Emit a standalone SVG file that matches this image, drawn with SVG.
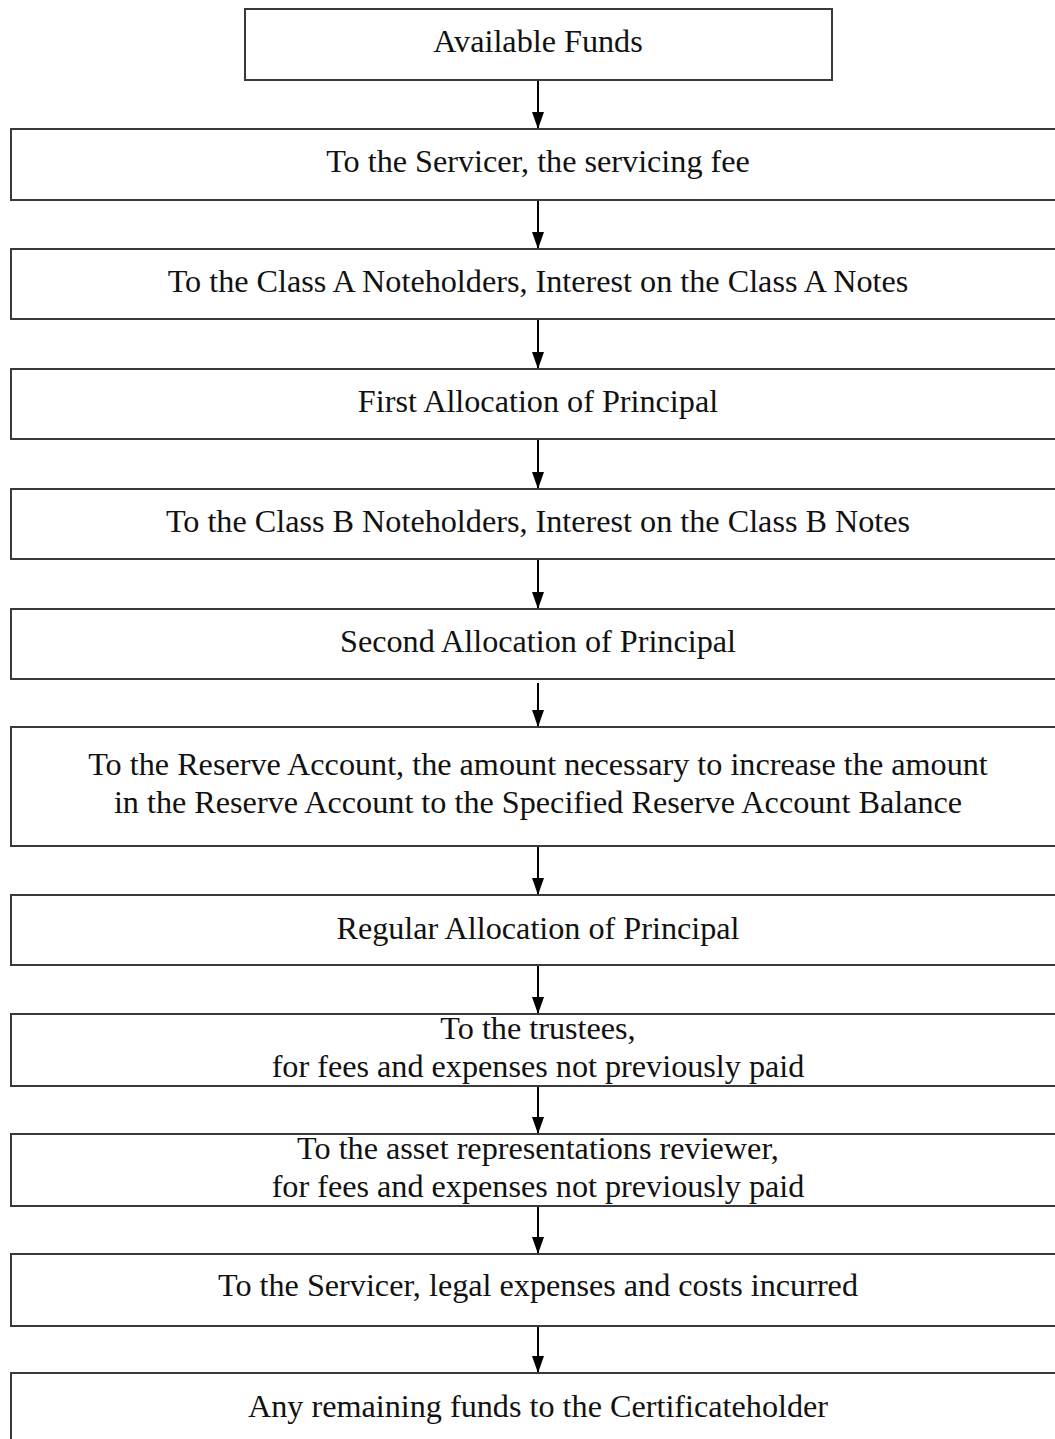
<svg xmlns="http://www.w3.org/2000/svg" width="1055" height="1439" viewBox="0 0 1055 1439">
<defs>
<style>
.box{fill:#ffffff;stroke:#3a3a3a;stroke-width:2}
.t{font-family:"Liberation Serif","Times New Roman",serif;font-size:32.2px;fill:#111;text-anchor:middle}
.c{stroke:#000;stroke-width:2;fill:none}
</style>
<marker id="ah" viewBox="0 0 17 12" refX="17" refY="6" markerWidth="17" markerHeight="12" markerUnits="userSpaceOnUse" orient="auto">
<path d="M0,0 L17,6 L0,12 Z" fill="#000"/>
</marker>
</defs>
<rect width="1055" height="1439" fill="#ffffff"/>
<g id="connectors">
<line class="c" x1="538" y1="80" x2="538" y2="129" marker-end="url(#ah)"/>
<line class="c" x1="538" y1="200" x2="538" y2="249" marker-end="url(#ah)"/>
<line class="c" x1="538" y1="319" x2="538" y2="369" marker-end="url(#ah)"/>
<line class="c" x1="538" y1="439" x2="538" y2="489" marker-end="url(#ah)"/>
<line class="c" x1="538" y1="559" x2="538" y2="609" marker-end="url(#ah)"/>
<line class="c" x1="538" y1="683" x2="538" y2="727" marker-end="url(#ah)"/>
<line class="c" x1="538" y1="846" x2="538" y2="895" marker-end="url(#ah)"/>
<line class="c" x1="538" y1="965" x2="538" y2="1014" marker-end="url(#ah)"/>
<line class="c" x1="538" y1="1086" x2="538" y2="1134" marker-end="url(#ah)"/>
<line class="c" x1="538" y1="1206" x2="538" y2="1254" marker-end="url(#ah)"/>
<line class="c" x1="538" y1="1326" x2="538" y2="1373" marker-end="url(#ah)"/>
</g>
<g id="n1"><rect class="box" x="245" y="9" width="587" height="71"/><text class="t" x="538" y="52">Available Funds</text></g>
<g id="n2"><rect class="box" x="11" y="129" width="1060" height="71"/><text class="t" x="538" y="172">To the Servicer, the servicing fee</text></g>
<g id="n3"><rect class="box" x="11" y="249" width="1060" height="70"/><text class="t" x="538" y="292">To the Class A Noteholders, Interest on the Class A Notes</text></g>
<g id="n4"><rect class="box" x="11" y="369" width="1060" height="70"/><text class="t" x="538" y="412">First Allocation of Principal</text></g>
<g id="n5"><rect class="box" x="11" y="489" width="1060" height="70"/><text class="t" x="538" y="532">To the Class B Noteholders, Interest on the Class B Notes</text></g>
<g id="n6"><rect class="box" x="11" y="609" width="1060" height="70"/><text class="t" x="538" y="652">Second Allocation of Principal</text></g>
<g id="n7"><rect class="box" x="11" y="727" width="1060" height="119"/><text class="t" x="538" y="775">To the Reserve Account, the amount necessary to increase the amount</text><text class="t" x="538" y="813">in the Reserve Account to the Specified Reserve Account Balance</text></g>
<g id="n8"><rect class="box" x="11" y="895" width="1060" height="70"/><text class="t" x="538" y="939">Regular Allocation of Principal</text></g>
<g id="n9"><rect class="box" x="11" y="1014" width="1060" height="72"/><text class="t" x="538" y="1039">To the trustees,</text><text class="t" x="538" y="1077">for fees and expenses not previously paid</text></g>
<g id="n10"><rect class="box" x="11" y="1134" width="1060" height="72"/><text class="t" x="538" y="1159">To the asset representations reviewer,</text><text class="t" x="538" y="1197">for fees and expenses not previously paid</text></g>
<g id="n11"><rect class="box" x="11" y="1254" width="1060" height="72"/><text class="t" x="538" y="1296">To the Servicer, legal expenses and costs incurred</text></g>
<g id="n12"><rect class="box" x="11" y="1373" width="1060" height="80"/><text class="t" x="538" y="1417">Any remaining funds to the Certificateholder</text></g>
</svg>
